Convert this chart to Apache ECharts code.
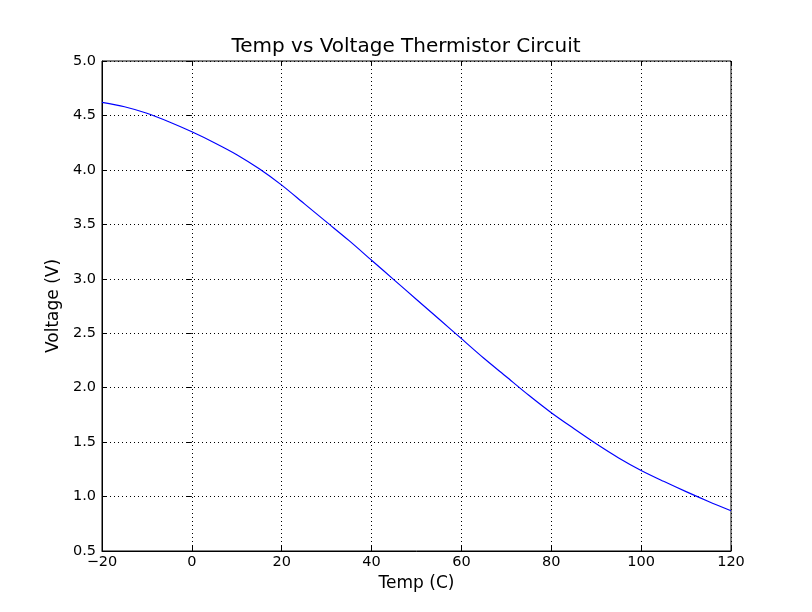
<!DOCTYPE html>
<html>
<head>
<meta charset="utf-8">
<script src="https://cdn.jsdelivr.net/npm/echarts@6/dist/echarts.min.js"></script>
<style>
  html, body { margin: 0; padding: 0; background: #fff; }
  #chart { width: 812px; height: 612px; }
</style>
</head>
<body>
<div id="chart"></div>
<script>
// temperatures (C) and the read-off voltages (V), every 5 degrees
var temps = [-20, -15, -10, -5, 0, 5, 10, 15, 20, 25, 30, 35, 40, 45, 50,
	55, 60, 65, 70, 75, 80, 85, 90, 95, 100, 105, 110, 115, 120]
var volts = [4.62, 4.58, 4.52, 4.44, 4.35, 4.25, 4.14, 4.01, 3.86, 3.69, 3.52, 3.35, 3.17, 2.99, 2.81,
	2.63, 2.45, 2.27, 2.10, 1.93, 1.77, 1.625, 1.485, 1.355, 1.24, 1.14, 1.045, 0.955, 0.87]

var xTicks = [-20, 0, 20, 40, 60, 80, 100, 120]
var yTicks = [0.5, 1.0, 1.5, 2.0, 2.5, 3.0, 3.5, 4.0, 4.5, 5.0]

var font = 'DejaVu Sans'
var points = temps.map(function (t, i) { return [t, volts[i]] })

var myChart = echarts.init(document.getElementById('chart'))

function fmtX(v) {
	return v < 0 ? '\u2212' + Math.abs(v) : String(v)
}

var dotted = { show: true, lineStyle: { color: '#000', type: [1, 3], width: 1 } }
var tickIn = { show: true, inside: true, length: 5, lineStyle: { color: '#000' } }

var option = {
	animation: false,
	title: {
		text: 'Temp vs Voltage Thermistor Circuit',
		left: 'center',
		top: 32,
		textStyle: { fontFamily: font, fontSize: 20, fontWeight: 'normal', color: '#000' }
	},
	grid: {
		left: 102, right: 81, top: 61, bottom: 61,
		show: true, borderColor: '#000', borderWidth: 1
	},
	xAxis: [{
		type: 'value',
		min: xTicks[0], max: xTicks[xTicks.length - 1], interval: 20,
		name: 'Temp (C)', nameLocation: 'middle', nameGap: 21,
		nameTextStyle: { fontFamily: font, fontSize: 17, color: '#000' },
		axisLine: { show: true, onZero: false, lineStyle: { color: '#000' } },
		axisTick: tickIn,
		splitLine: dotted,
		axisLabel: { fontFamily: font, fontSize: 14.5, color: '#000', margin: 4, formatter: fmtX }
	}, {
		type: 'value', position: 'top',
		min: xTicks[0], max: xTicks[xTicks.length - 1], interval: 20,
		axisLine: { show: false }, axisTick: tickIn, axisLabel: { show: false }, splitLine: { show: false }
	}],
	yAxis: [{
		type: 'value',
		min: yTicks[0], max: yTicks[yTicks.length - 1], interval: 0.5,
		name: 'Voltage (V)', nameLocation: 'middle', nameGap: 38,
		nameTextStyle: { fontFamily: font, fontSize: 17, color: '#000' },
		axisLine: { show: true, onZero: false, lineStyle: { color: '#000' } },
		axisTick: tickIn,
		splitLine: dotted,
		axisLabel: { fontFamily: font, fontSize: 14.5, color: '#000', margin: 6,
			formatter: function (v) { return v.toFixed(1) } }
	}, {
		type: 'value', position: 'right',
		min: yTicks[0], max: yTicks[yTicks.length - 1], interval: 0.5,
		axisLine: { show: false }, axisTick: tickIn, axisLabel: { show: false }, splitLine: { show: false }
	}],
	series: [{
		type: 'line',
		data: points,
		smooth: 0.3,
		showSymbol: false,
		lineStyle: { color: '#0000ff', width: 1.2 }
	}]
}
myChart.setOption(option)
</script>
</body>
</html>
